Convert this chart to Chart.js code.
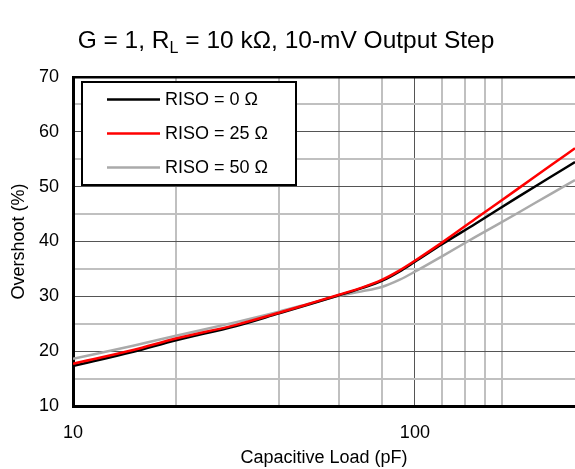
<!DOCTYPE html>
<html>
<head>
<meta charset="utf-8">
<script src="https://cdn.jsdelivr.net/npm/chart.js@4.4.1/dist/chart.umd.min.js"></script>
<style>
html,body{margin:0;padding:0;background:#fff;}
#wrap{position:relative;width:575px;height:469px;overflow:hidden;}
#c{position:absolute;left:0;top:0;}
#title{position:absolute;left:0;top:26px;width:572px;text-align:center;font-family:"Liberation Sans",Arial,Helvetica,sans-serif;font-size:24.5px;line-height:28px;color:#000;white-space:nowrap;}
#title sub{font-size:16px;line-height:0;vertical-align:baseline;position:relative;top:5px;}
</style>
</head>
<body>
<div id="wrap">
<canvas id="c" width="575" height="469"></canvas>
<div id="title">G = 1, R<sub>L</sub> = 10 kΩ, 10-mV Output Step</div>
</div>
<script>
// ---- data ----
const capacitance = [10, 15, 20, 30, 40, 50, 60, 70, 80, 90, 100, 120, 150, 200, 250, 294];
const riso0  = [17.3, 19.9, 22.0, 24.6, 26.9, 28.7, 30.2, 31.5, 32.8, 34.5, 36.3, 39.5, 43.2, 48.1, 51.8, 54.5];
const riso25 = [17.7, 20.2, 22.3, 24.8, 27.0, 28.8, 30.3, 31.6, 33.0, 34.7, 36.5, 39.8, 44.1, 49.6, 53.9, 57.0];
const riso50 = [18.6, 21.0, 22.8, 25.3, 27.2, 28.8, 30.1, 30.9, 31.7, 33.0, 34.5, 37.3, 40.8, 45.2, 48.7, 51.2];
const seriesLabels = ['RISO = 0 Ω', 'RISO = 25 Ω', 'RISO = 50 Ω'];
const seriesColors = ['#000000', '#ff0000', '#aaaaaa'];
const xGridValues = [10, 20, 40, 60, 80, 100, 120, 140, 160, 180];
const xTickLabels = [10, 100];
const yTickLabels = [10, 20, 30, 40, 50, 60, 70];

const FONT = '"Liberation Sans", Arial, Helvetica, sans-serif';
Chart.defaults.font.family = FONT;
Chart.defaults.color = '#000';

const toPoints = (ys) => capacitance.map((c, i) => ({x: c, y: ys[i]}));

const legendBox = {
  id: 'legendBox',
  afterDatasetsDraw(chart) {
    const ctx = chart.ctx, a = chart.chartArea;
    const x0 = a.left + 9, y0 = a.top + 5, w = 214, h = 103;
    ctx.save();
    ctx.fillStyle = '#fff';
    ctx.fillRect(x0, y0, w, h);
    ctx.strokeStyle = '#000';
    ctx.lineWidth = 2;
    ctx.strokeRect(x0, y0, w, h);
    ctx.font = '18px ' + FONT;
    ctx.textBaseline = 'middle';
    ctx.textAlign = 'left';
    chart.data.datasets.forEach((ds, i) => {
      const y = y0 + 17.5 + i * 34;
      ctx.strokeStyle = ds.borderColor;
      ctx.lineWidth = 2.5;
      ctx.beginPath();
      ctx.moveTo(x0 + 25, y);
      ctx.lineTo(x0 + 78, y);
      ctx.stroke();
      ctx.fillStyle = '#000';
      ctx.fillText(ds.label, x0 + 83, y + 1);
    });
    ctx.restore();
  }
};

const ds = (i, ys, order) => ({
  label: seriesLabels[i],
  data: toPoints(ys),
  borderColor: seriesColors[i],
  backgroundColor: seriesColors[i],
  borderWidth: 2.5,
  pointRadius: 0,
  cubicInterpolationMode: 'monotone',
  fill: false,
  order: order
});

new Chart(document.getElementById('c'), {
  type: 'line',
  data: {
    datasets: [ds(0, riso0, 1), ds(1, riso25, 0), ds(2, riso50, 2)]
  },
  options: {
    responsive: false,
    animation: false,
    events: [],
    layout: {padding: {top: 77, right: 0, bottom: 0, left: 0}},
    plugins: {legend: {display: false}, title: {display: false}, tooltip: {enabled: false}},
    scales: {
      x: {
        type: 'logarithmic',
        min: 10,
        max: 294,
        afterBuildTicks: (s) => { s.ticks = xGridValues.map(v => ({value: v})); },
        afterFit: (s) => { s.height = 63; },
        ticks: {
          autoSkip: false,
          maxRotation: 0,
          padding: 16,
          font: {size: 18},
          color: '#000',
          callback: (v) => xTickLabels.includes(v) ? String(v) : ''
        },
        grid: {
          drawTicks: false,
          color: (c) => (c.tick && c.tick.value === 100) ? '#555555' : '#c0c0c0',
          lineWidth: (c) => (c.tick && c.tick.value === 100) ? 1 : 2
        },
        border: {display: true, color: '#000', width: 3},
        title: {display: true, text: 'Capacitive Load (pF)', font: {size: 18}, color: '#000', padding: {top: 0, bottom: 0}}
      },
      y: {
        min: 10,
        max: 70,
        afterFit: (s) => { s.width = 73; },
        ticks: {
          stepSize: 5,
          padding: 14,
          font: {size: 18},
          color: '#000',
          callback: (v) => yTickLabels.includes(v) ? String(v) : ''
        },
        grid: {
          drawTicks: false,
          color: (c) => {
            const v = c.tick ? c.tick.value : 0;
            if (v === 70) return '#000';
            return yTickLabels.includes(v) ? '#555555' : '#c0c0c0';
          },
          lineWidth: (c) => {
            const v = c.tick ? c.tick.value : 0;
            if (v === 70) return 2.5;
            return yTickLabels.includes(v) ? 1 : 2;
          }
        },
        border: {display: true, color: '#000', width: 3},
        title: {display: true, text: 'Overshoot (%)', font: {size: 18}, color: '#000', padding: {top: 8, bottom: 0}}
      }
    }
  },
  plugins: [legendBox]
});
</script>
</body>
</html>
